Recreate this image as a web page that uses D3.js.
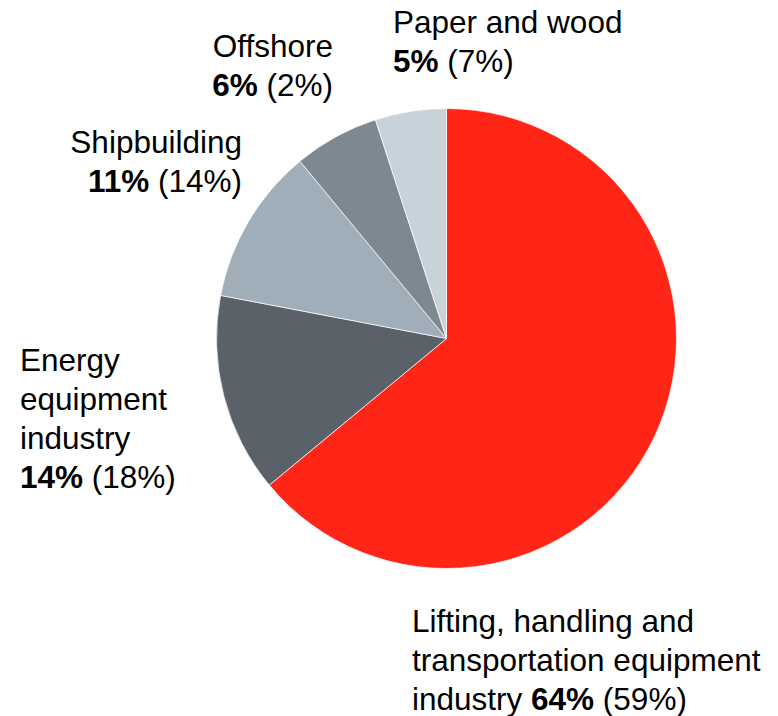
<!DOCTYPE html>
<html>
<head>
<meta charset="utf-8">
<script src="https://cdn.jsdelivr.net/npm/d3@7"></script>
<style>
  html, body { margin: 0; padding: 0; background: #fff; }
  svg { display: block; font-family: "Liberation Sans", Arial, sans-serif; }
</style>
</head>
<body>
<svg id="chart" width="778" height="716"></svg>
<script>
// Segment shares (current year) and previous-year shares in brackets
const segments = ["Lifting, handling and transportation equipment industry", "Energy equipment industry", "Shipbuilding", "Offshore", "Paper and wood"];
const shares = [64, 14, 11, 6, 5];
const prevShares = [59, 18, 14, 2, 7];
const colors = ["#FF2618", "#5B6168", "#A0AEBA", "#7D8890", "#C8D2DB"];

// Label text lines; the last line carries the bold value and the bracketed value
const labelLines = [
  ["Lifting, handling and", "transportation equipment", "industry "],
  ["Energy", "equipment", "industry", ""],
  ["Shipbuilding", ""],
  ["Offshore", ""],
  ["Paper and wood", ""]
];

const svg = d3.select("#chart");
const cx = 446.5, cy = 338.5, radius = 230;

const pie = d3.pie().sort(null).value(d => d.value);
const arc = d3.arc().innerRadius(0).outerRadius(radius);

const data = segments.map((s, i) => ({ name: s, value: shares[i], prev: prevShares[i], color: colors[i], lines: labelLines[i] }));

const g = svg.append("g").attr("transform", `translate(${cx},${cy})`);
g.selectAll("path")
  .data(pie(data))
  .join("path")
  .attr("d", arc)
  .attr("fill", d => d.data.color)
  .attr("stroke", "#fff")
  .attr("stroke-width", 0.7);

// Label placement: anchor point, text-anchor and first baseline
const labelPos = [
  { x: 412, y: 632, anchor: "start" },
  { x: 20, y: 371, anchor: "start" },
  { x: 242, y: 153, anchor: "end" },
  { x: 333, y: 57, anchor: "end" },
  { x: 393, y: 33, anchor: "start" }
];
const lineHeight = 39;
const fontSize = 31.5;

data.forEach((d, i) => {
  const p = labelPos[i];
  const t = svg.append("text")
    .attr("x", p.x)
    .attr("y", p.y)
    .attr("text-anchor", p.anchor)
    .attr("font-size", fontSize)
    .attr("fill", "#000");
  d.lines.forEach((line, j) => {
    const last = j === d.lines.length - 1;
    const ts = t.append("tspan").attr("x", p.x).attr("dy", j === 0 ? 0 : lineHeight);
    if (!last) {
      ts.text(line);
    } else {
      if (line) ts.append("tspan").text(line);
      ts.append("tspan").attr("font-weight", "bold").text(d.value + "%");
      ts.append("tspan").text(" (" + d.prev + "%)");
    }
  });
});
</script>
</body>
</html>
